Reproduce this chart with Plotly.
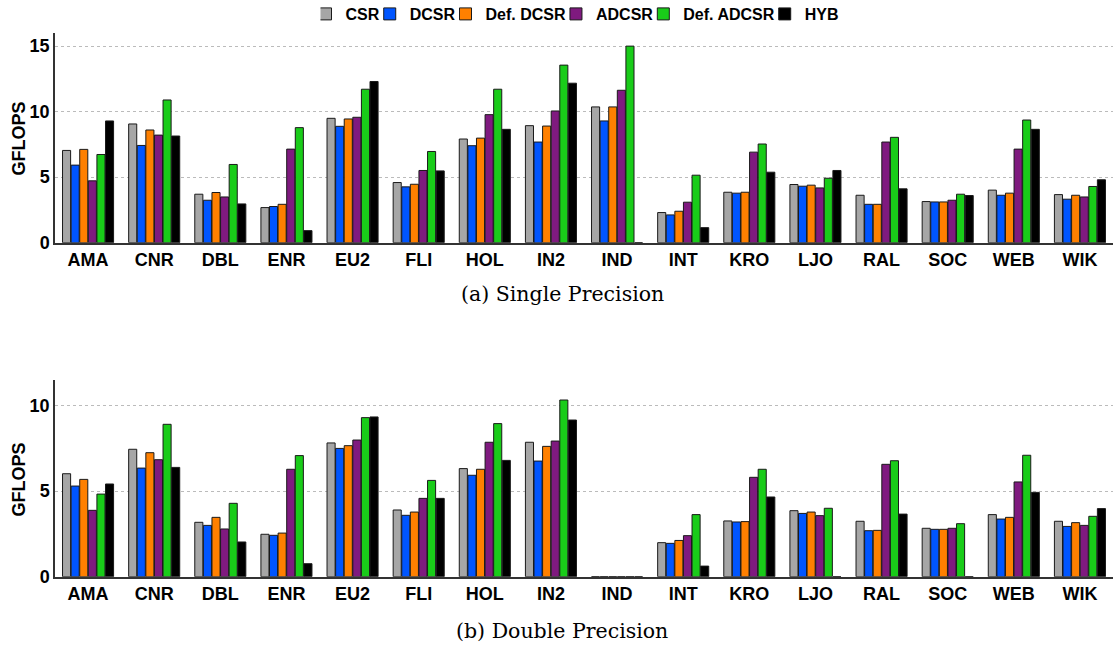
import plotly.graph_objects as go

categories = ["AMA", "CNR", "DBL", "ENR", "EU2", "FLI", "HOL", "IN2",
              "IND", "INT", "KRO", "LJO", "RAL", "SOC", "WEB", "WIK"]

series_names = ["CSR", "DCSR", "Def. DCSR", "ADCSR", "Def. ADCSR", "HYB"]
series_colors = ["#a6a6a6", "#0055ff", "#ff8000", "#7f1a7f", "#19cc19", "#000000"]

# Single precision GFLOPS
sp_csr = [7.04, 9.06, 3.70, 2.68, 9.49, 4.59, 7.91, 8.93, 10.36, 2.30, 3.85, 4.44, 3.62, 3.14, 4.01, 3.67]
sp_dcsr = [5.92, 7.42, 3.24, 2.76, 8.88, 4.26, 7.40, 7.68, 9.29, 2.12, 3.78, 4.31, 2.93, 3.11, 3.62, 3.32]
sp_def_dcsr = [7.12, 8.60, 3.83, 2.93, 9.44, 4.46, 7.98, 8.90, 10.36, 2.40, 3.85, 4.39, 2.93, 3.11, 3.78, 3.62]
sp_adcsr = [4.72, 8.21, 3.49, 7.14, 9.57, 5.51, 9.77, 10.05, 11.63, 3.09, 6.91, 4.18, 7.68, 3.24, 7.14, 3.49]
sp_def_adcsr = [6.73, 10.89, 5.97, 8.78, 11.71, 6.96, 11.71, 13.55, 15.00, 5.15, 7.53, 4.92, 8.04, 3.70, 9.36, 4.29]
sp_hyb = [9.29, 8.14, 2.96, 0.92, 12.30, 5.48, 8.65, 12.17, 0.0, 1.15, 5.38, 5.51, 4.11, 3.60, 8.65, 4.80]

# Double precision GFLOPS
dp_csr = [6.02, 7.45, 3.18, 2.48, 7.82, 3.90, 6.32, 7.86, 0.0, 1.99, 3.26, 3.86, 3.24, 2.83, 3.63, 3.24]
dp_dcsr = [5.30, 6.35, 3.00, 2.42, 7.50, 3.59, 5.93, 6.76, 0.0, 1.95, 3.20, 3.70, 2.69, 2.77, 3.37, 2.94]
dp_def_dcsr = [5.69, 7.25, 3.47, 2.55, 7.66, 3.78, 6.28, 7.62, 0.0, 2.12, 3.22, 3.78, 2.71, 2.77, 3.47, 3.16]
dp_adcsr = [3.88, 6.84, 2.79, 6.28, 7.99, 4.58, 7.86, 7.93, 0.0, 2.40, 5.81, 3.57, 6.57, 2.83, 5.54, 3.00]
dp_def_adcsr = [4.83, 8.91, 4.29, 7.08, 9.30, 5.63, 8.95, 10.33, 0.0, 3.63, 6.28, 4.00, 6.78, 3.10, 7.10, 3.53]
dp_hyb = [5.42, 6.39, 2.03, 0.76, 9.34, 4.58, 6.80, 9.16, 0.0, 0.62, 4.66, 0.0, 3.66, 0.0, 4.93, 3.98]

sp_values = [sp_csr, sp_dcsr, sp_def_dcsr, sp_adcsr, sp_def_adcsr, sp_hyb]
dp_values = [dp_csr, dp_dcsr, dp_def_dcsr, dp_adcsr, dp_def_adcsr, dp_hyb]

sp_ticks = [0, 5, 10, 15]
dp_ticks = [0, 5, 10]

W, H = 1113, 655
sans = "Liberation Sans, Arial, sans-serif"
serif = "DejaVu Serif, serif"

fig = go.Figure()
for name, color, sv, dv in zip(series_names, series_colors, sp_values, dp_values):
    fig.add_trace(go.Bar(
        x=categories, y=sv, name=name, legendgroup=name,
        marker=dict(color=color, line=dict(color="#1a1a1a", width=1)),
        xaxis="x", yaxis="y", showlegend=True))
    fig.add_trace(go.Bar(
        x=categories, y=dv, name=name, legendgroup=name,
        marker=dict(color=color, line=dict(color="#1a1a1a", width=1)),
        xaxis="x2", yaxis="y2", showlegend=False))

xdom = [55 / W, 1.0]
top_dom = [1 - 242.7 / H, 1 - 33 / H]
bot_dom = [1 - 576.7 / H, 1 - 380 / H]

tickfont = dict(family=sans, size=18, color="#000", weight="bold")
common_x = dict(domain=xdom, showline=True, linecolor="#333", linewidth=2,
                ticks="", tickfont=tickfont, showgrid=False, zeroline=False,
                automargin=False)
common_y = dict(showline=True, linecolor="#333", linewidth=1.5, ticks="",
                tickfont=tickfont, showgrid=True, gridcolor="#bbbbbb",
                griddash="dot", gridwidth=1, zeroline=False, automargin=False)

ann_font = dict(family=sans, size=18, color="#000", weight="bold")
cap_font = dict(family=serif, size=20.5, color="#000")

fig.update_layout(
    width=W, height=H,
    margin=dict(l=0, r=0, t=0, b=0, autoexpand=False),
    paper_bgcolor="white", plot_bgcolor="white",
    barmode="group", bargap=0.22, bargroupgap=0.06,
    xaxis=dict(anchor="y", **common_x),
    xaxis2=dict(anchor="y2", **common_x),
    yaxis=dict(anchor="x", domain=top_dom, range=[0, 16], tickvals=sp_ticks, **common_y),
    yaxis2=dict(anchor="x2", domain=bot_dom, range=[0, 11.5], tickvals=dp_ticks, **common_y),
    legend=dict(orientation="h", x=582 / W, xanchor="center", y=1.0 + 3 / H, yanchor="top",
                font=dict(family=sans, size=16, color="#000", weight="bold"),
                bgcolor="rgba(0,0,0,0)", itemwidth=30, indentation=-15,
                tracegroupgap=0),
    showlegend=True,
    annotations=[
        dict(text="GFLOPS", x=18 / W, y=1 - 138.5 / H, xref="paper", yref="paper",
             xanchor="center", yanchor="middle",
             textangle=-90, showarrow=False, font=ann_font),
        dict(text="GFLOPS", x=18 / W, y=1 - 479.5 / H, xref="paper", yref="paper",
             xanchor="center", yanchor="middle",
             textangle=-90, showarrow=False, font=ann_font),
        dict(text="(a) Single Precision", x=562 / W, y=1 - 294 / H, xref="paper", yref="paper",
             xanchor="center", yanchor="middle", showarrow=False, font=cap_font),
        dict(text="(b) Double Precision", x=562 / W, y=1 - 631 / H, xref="paper", yref="paper",
             xanchor="center", yanchor="middle", showarrow=False, font=cap_font),
    ],
)

fig.write_html("out.html")
